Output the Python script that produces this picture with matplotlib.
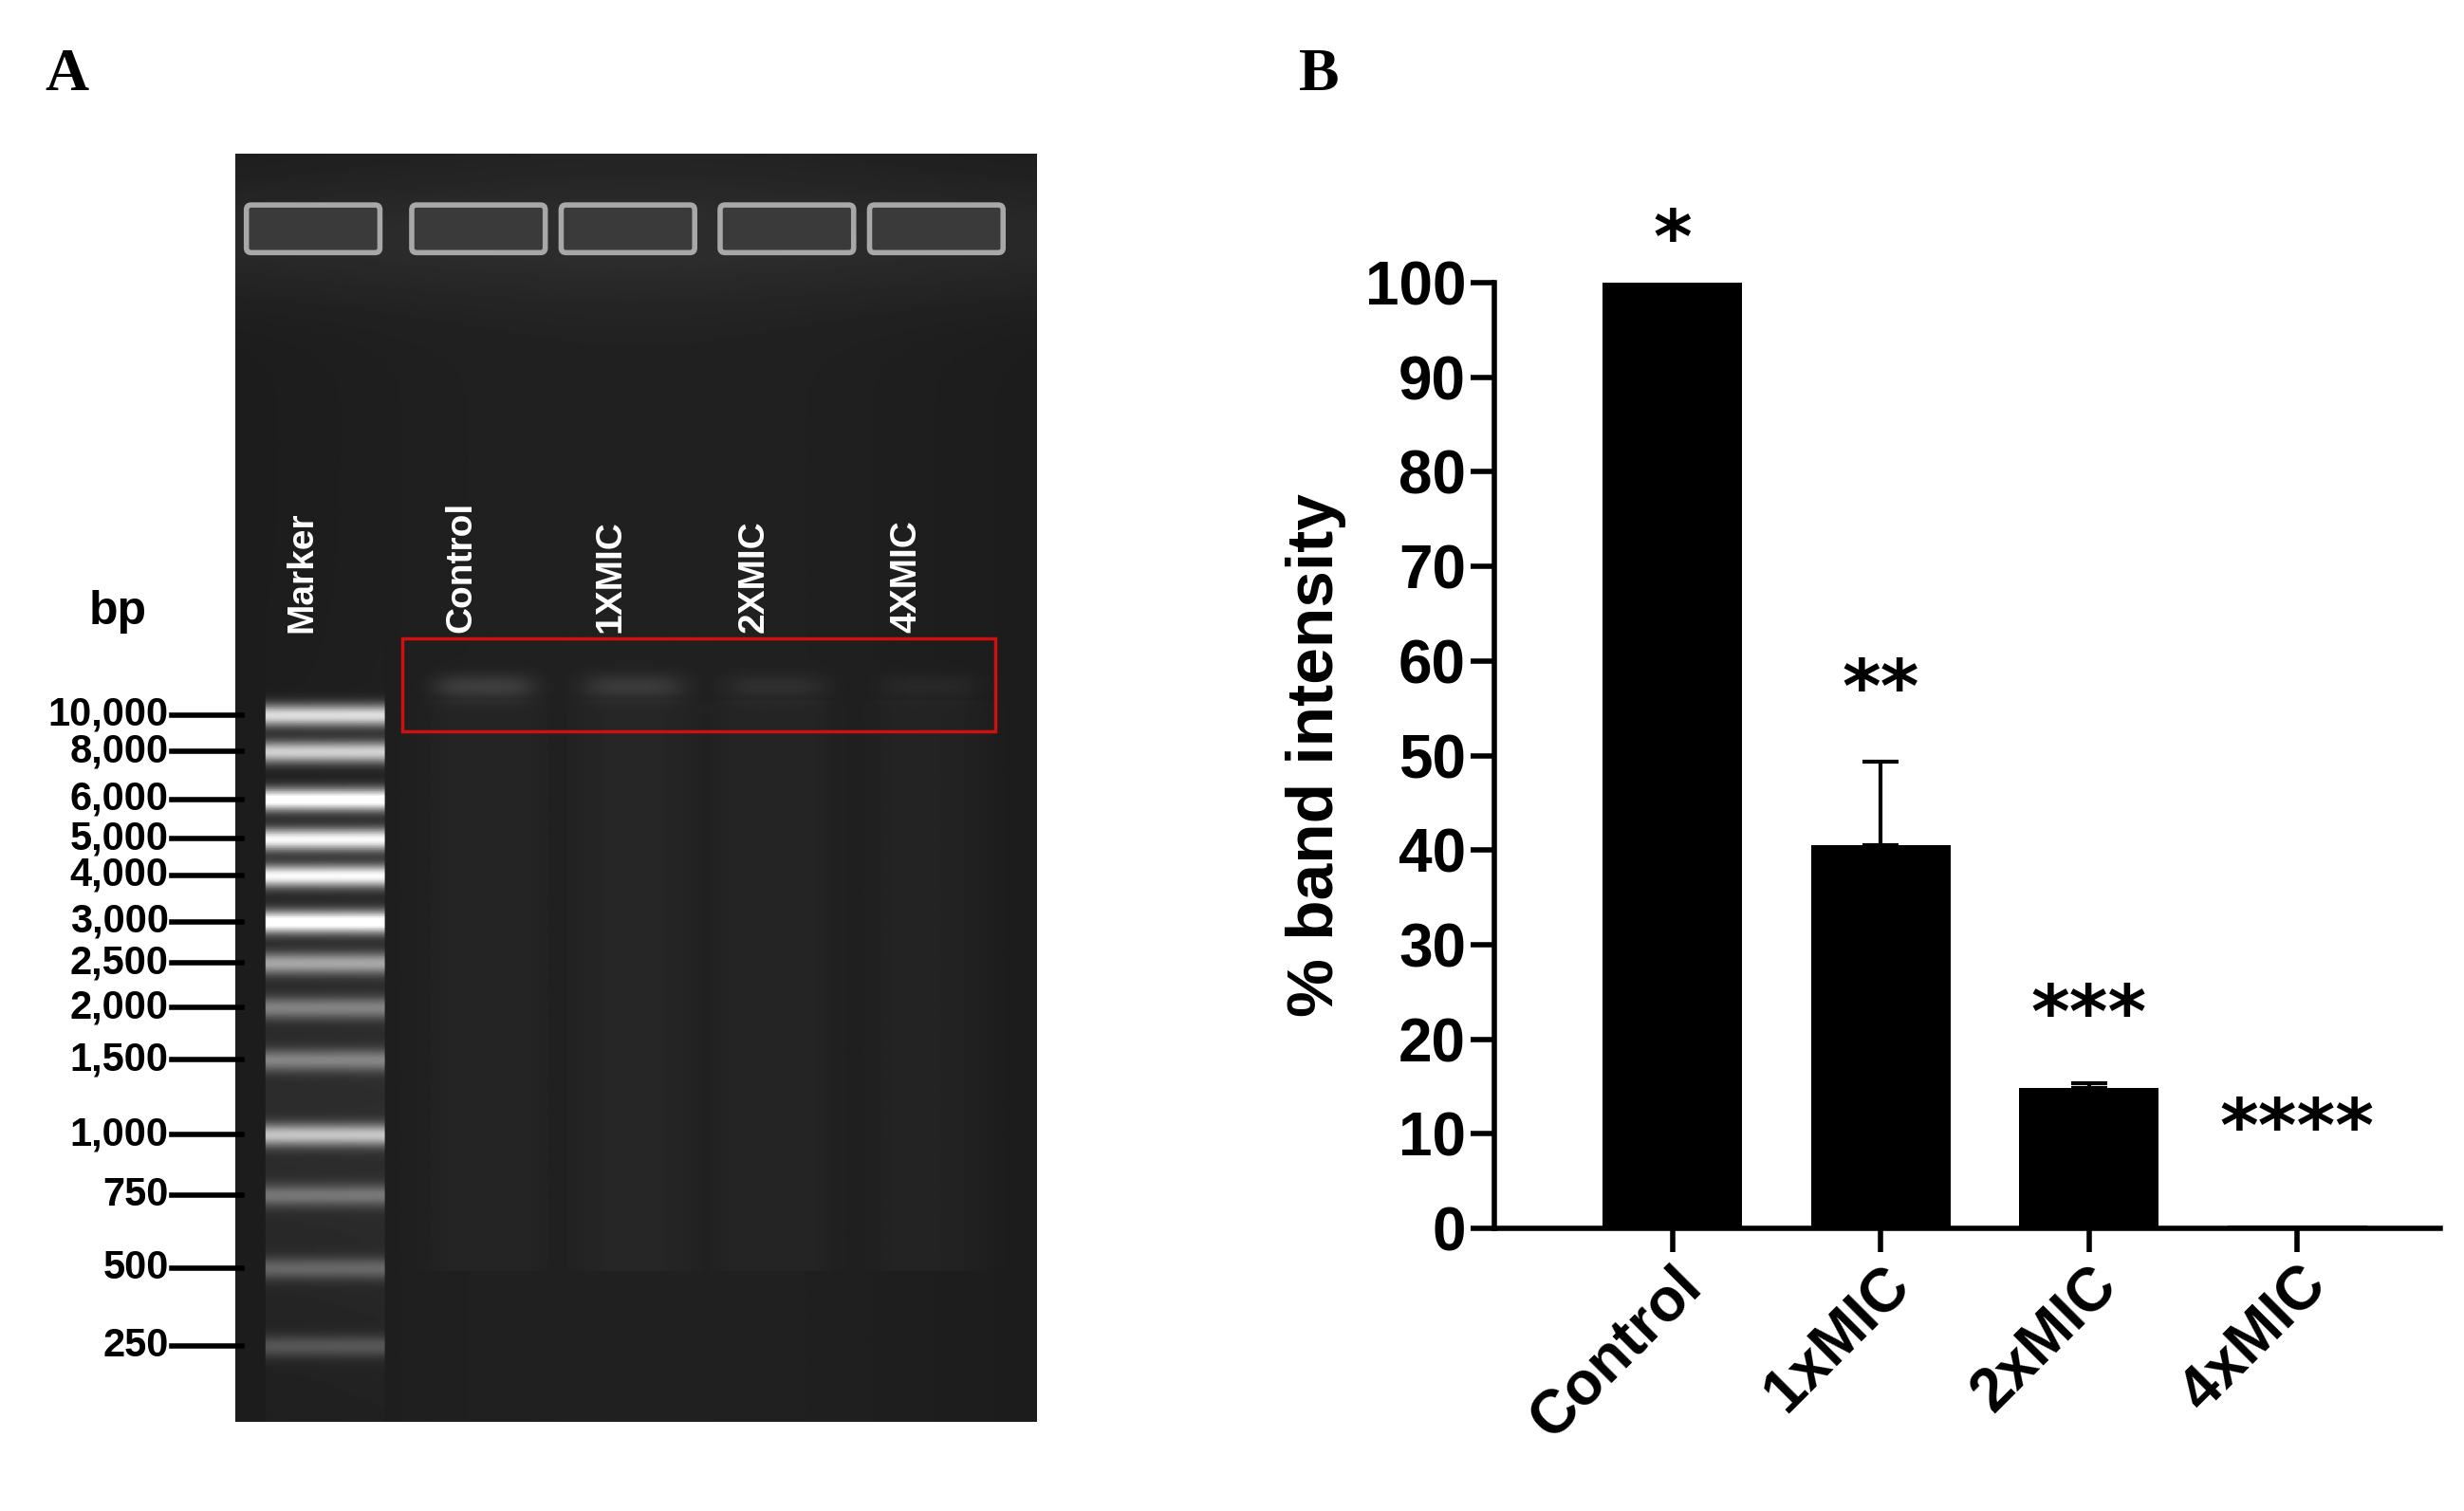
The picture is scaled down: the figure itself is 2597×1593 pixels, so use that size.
import numpy as np
import matplotlib
matplotlib.use("Agg")
import matplotlib.pyplot as plt
from matplotlib.patches import Rectangle, FancyBboxPatch

# ---- data ----
categories = ["Control", "1xMIC", "2xMIC", "4xMIC"]
values = [100, 40.5, 14.8, 0.3]
errors = [0, 8.8, 0.5, 0]
stars = ["*", "**", "***", "****"]
star_y = [100.5, 53, 18.5, 6.5]
yticks = list(range(0, 101, 10))

marker_labels = ["10,000", "8,000", "6,000", "5,000", "4,000", "3,000", "2,500",
                 "2,000", "1,500", "1,000", "750", "500", "250"]
marker_band_y = [450, 473, 503, 528, 551, 580, 606, 634, 667, 714, 752, 798, 847]
marker_band_int = [0.75, 0.7, 0.95, 0.85, 0.85, 0.95, 0.5, 0.35, 0.35, 0.6, 0.3, 0.25, 0.2]
lane_labels = ["Marker", "Control", "1XMIC", "2XMIC", "4XMIC"]
lane_x = [204, 304, 398, 488, 584]
sample_band_int = [0.12, 0.1, 0.06, 0.04]

W, H = 1550, 951
fig = plt.figure(figsize=(25.97, 15.93), dpi=100)
plt.rcParams['font.family'] = ['Liberation Sans', 'DejaVu Sans']

ov = fig.add_axes([0, 0, 1, 1])
ov.set_xlim(0, W); ov.set_ylim(H, 0); ov.axis('off')

gx0, gx1, gy0, gy1 = 148, 652, 97, 895
ys = np.arange(gy0, gy1)[:, None].astype(float)
xs = np.arange(gx0, gx1)[None, :].astype(float)
img = 0.10 + 0.03 * np.exp(-((xs - 400) / 250) ** 2) * np.ones_like(ys)
img = img + 0.05 * np.exp(-((ys - 150) / 40) ** 2)
mx = (np.abs(xs - 204) < 38).astype(float)
for yb, it in zip(marker_band_y, marker_band_int):
    img = img + it * mx * np.exp(-((ys - yb) / 7) ** 2)
img = img + 0.06 * mx * np.exp(-((ys - 700) / 150) ** 2)
for lx, it in zip(lane_x[1:], sample_band_int):
    img = img + it * np.exp(-((xs - lx) / 32) ** 4) * np.exp(-((ys - 432) / 8) ** 2)
    img = img + 0.02 * np.exp(-((xs - lx) / 36) ** 4) * ((ys > 440) & (ys < 800))
img = np.clip(img, 0, 1)
ov.imshow(img, cmap='gray', vmin=0, vmax=1, extent=(gx0, gx1, gy1, gy0), aspect='auto', zorder=1)
for wx in [158, 262, 356, 456, 550]:
    ov.add_patch(FancyBboxPatch((wx, 132), 78, 24, boxstyle="round,pad=3",
                                fc='#3a3a3a', ec='#a8a8a8', lw=4, zorder=2))
ov.add_patch(Rectangle((253, 402), 373, 58, fill=False, ec='#d01010', lw=2.5, zorder=3))
for lx, lab in zip(lane_x, lane_labels):
    ov.text(lx - 14, 398, lab, color='white', rotation=90, ha='center', va='bottom',
            fontsize=28, fontweight='bold', zorder=4)
for yb, lab in zip(marker_band_y, marker_labels):
    ov.plot([108, 152], [yb, yb], color='black', lw=4, zorder=4)
    ov.text(106, yb, lab, ha='right', va='center', fontsize=30, fontweight='bold')
ov.text(74, 385, "bp", ha='center', va='center', fontsize=36, fontweight='bold')
ov.text(42, 48, "A", ha='center', va='center', fontsize=46, fontweight='bold', family='Liberation Serif')
ov.text(830, 48, "B", ha='center', va='center', fontsize=46, fontweight='bold', family='Liberation Serif')

ax = fig.add_axes([940 / W, 1 - 773 / H, 595 / W, 595 / H])
x = np.arange(len(categories))
ax.bar(x, values, width=0.67, color='black', zorder=2)
ax.errorbar(x[1:3], values[1:3], yerr=[[0, 0], errors[1:3]], fmt='none', ecolor='black',
            elinewidth=3, capsize=14, capthick=3)
for xi, s, sy in zip(x, stars, star_y):
    ax.text(xi, sy, s, ha='center', va='bottom', fontsize=56, fontweight='bold', family='DejaVu Sans')
ax.set_xlim(-0.855, 3.687)
ax.set_ylim(0, 100)
ax.set_yticks(yticks)
ax.set_xticks(x)
ax.set_xticklabels(categories, rotation=45, ha='right', rotation_mode='anchor')
ax.tick_params(axis='both', labelsize=46, width=4, length=18)
for lab in ax.get_xticklabels() + ax.get_yticklabels():
    lab.set_fontweight('bold')
ax.set_ylabel("% band intensity", fontsize=50, fontweight='bold', labelpad=14)
for sp in ['top', 'right']:
    ax.spines[sp].set_visible(False)
for sp in ['left', 'bottom']:
    ax.spines[sp].set_linewidth(4)

fig.savefig("out.png", dpi=100)
